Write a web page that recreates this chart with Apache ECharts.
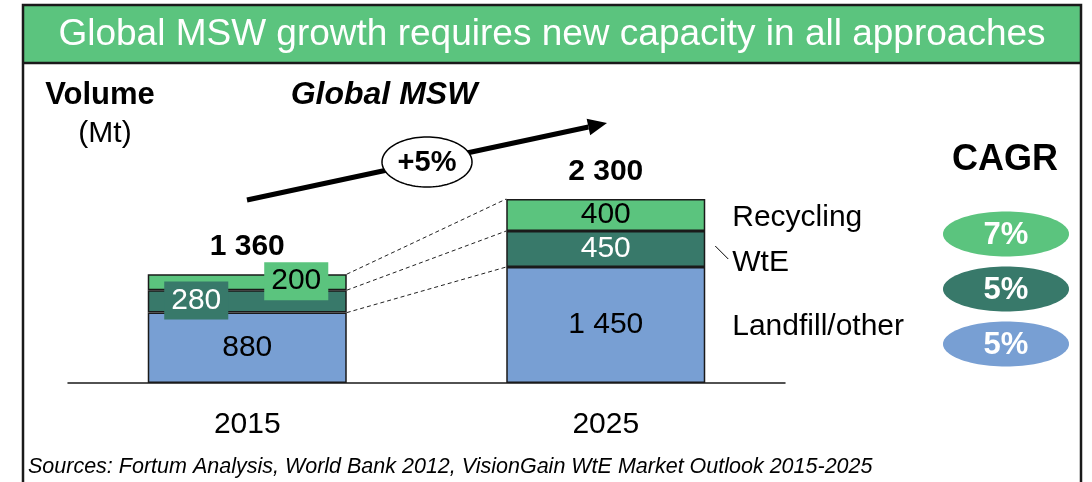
<!DOCTYPE html>
<html><head><meta charset="utf-8">
<script src="https://cdn.jsdelivr.net/npm/echarts@6/dist/echarts.min.js"></script>
<style>html,body{margin:0;padding:0;background:#fff}#c{width:1092px;height:482px}</style>
</head><body><div id="c"></div>
<script>
// ---- data ----
const years = ['2015', '2025'];
const landfill = [880, 1450];
const wte = [280, 450];
const recycling = [200, 400];
const totals = [1360, 2300];
const segmentNames = ['Recycling', 'WtE', 'Landfill/other'];
const cagrLabels = ['7%', '5%', '5%'];
const growthLabel = '+5%';
const titleText = 'Global MSW growth requires new capacity in all approaches';
const sourceText = 'Sources: Fortum Analysis, World Bank 2012, VisionGain WtE Market Outlook 2015-2025';

const FONT = '"Liberation Sans", Arial, Helvetica, sans-serif';
const C_REC = '#5bc47e', C_WTE = '#38796a', C_LAND = '#789fd3';
const BW = 199;

function fmt(v) { return String(v).replace(/\B(?=(\d{3})+(?!\d))/g, ' '); }

const chart = echarts.init(document.getElementById('c'), null, { renderer: 'canvas' });

const barBorder = { borderColor: '#1a1a1a', borderWidth: 1.5 };
const segLabel = (color) => ({ show: true, position: 'inside', fontFamily: FONT, fontSize: 30, color: color, formatter: p => fmt(p.value) });

chart.setOption({
  animation: false,
  backgroundColor: '#fff',
  grid: { left: 68, right: 307, top: 143, bottom: 99, containLabel: false },
  xAxis: {
    type: 'category', data: years,
    axisLine: { lineStyle: { color: '#1a1a1a', width: 1.5 } },
    axisTick: { show: false },
    axisLabel: { fontFamily: FONT, fontSize: 30, color: '#000', margin: 27 }
  },
  yAxis: { type: 'value', min: 0, max: 3000, show: false, splitLine: { show: false } },
  series: [
    { name: 'Landfill/other', type: 'bar', stack: 'msw', barWidth: BW, data: landfill,
      itemStyle: Object.assign({ color: C_LAND }, barBorder), label: segLabel('#000') },
    { name: 'WtE', type: 'bar', stack: 'msw', barWidth: BW,
      data: wte.map((v, i) => i === 0 ? { value: v, label: { show: false } } : v),
      itemStyle: Object.assign({ color: C_WTE }, barBorder), label: segLabel('#fff') },
    { name: 'Recycling', type: 'bar', stack: 'msw', barWidth: BW,
      data: recycling.map((v, i) => i === 0 ? { value: v, label: { show: false } } : v),
      itemStyle: Object.assign({ color: C_REC }, barBorder), label: segLabel('#000') },
    { name: 'totals', type: 'scatter', symbolSize: 0, data: totals, z: 10, itemStyle: { opacity: 1 },
      label: { show: true, position: 'top', distance: 12, fontFamily: FONT, fontSize: 30, fontWeight: 'bold', color: '#000', formatter: p => fmt(p.value) } },
    { name: 'boxed', type: 'scatter', symbolSize: 0, z: 10, itemStyle: { opacity: 1 },
      data: [
        { value: [0, landfill[0] + wte[0] / 2],
          label: { show: true, position: 'inside', offset: [-51, -1], backgroundColor: C_WTE, color: '#fff', padding: [4, 7],
                   fontFamily: FONT, fontSize: 30, formatter: () => fmt(wte[0]) } },
        { value: [0, landfill[0] + wte[0] + recycling[0] / 2],
          label: { show: true, position: 'inside', offset: [49, -1], backgroundColor: C_REC, color: '#000', padding: [4, 7],
                   fontFamily: FONT, fontSize: 30, formatter: () => fmt(recycling[0]) } }
      ] }
  ]
});

// ---- annotations ----
const px = (i, v) => chart.convertToPixel({ xAxisIndex: 0, yAxisIndex: 0 }, [i, v]);
const g = [];
const txt = (text, x, y, font, fill, align) => ({
  type: 'text', z: 50, style: { text, x, y, font, fill: fill || '#000', textAlign: align || 'center', textVerticalAlign: 'middle', align: align || 'center', verticalAlign: 'middle' }
});
function ellipse(cx, cy, rx, ry, fill, stroke, lw) {
  const pts = [];
  for (let k = 0; k < 96; k++) { const a = k / 96 * Math.PI * 2; pts.push([cx + rx * Math.cos(a), cy + ry * Math.sin(a)]); }
  return { type: 'polygon', z: 40, shape: { points: pts }, style: { fill, stroke: stroke || null, lineWidth: lw || 0 } };
}

// frame + title
g.push({ type: 'rect', z: 30, shape: { x: 23, y: 5, width: 1058, height: 58 }, style: { fill: C_REC } });
g.push({ type: 'polyline', z: 31, shape: { points: [[23, 484], [23, 5], [1081, 5], [1081, 484]] }, style: { stroke: '#1a1a1a', lineWidth: 2.5, fill: null } });
g.push({ type: 'line', z: 31, shape: { x1: 23, y1: 63, x2: 1081, y2: 63 }, style: { stroke: '#1a1a1a', lineWidth: 2.5 } });
g.push(txt(titleText, 552, 35, '37px ' + FONT, '#fff'));

// headings
g.push(txt('Volume', 100, 95, 'bold 31px ' + FONT));
g.push(txt('(Mt)', 105, 134, '30px ' + FONT));
g.push(txt('Global MSW', 384, 95, 'italic bold 32px ' + FONT));
g.push(txt('CAGR', 1005, 160, 'bold 36px ' + FONT));
g.push(txt(sourceText, 28, 467, 'italic 21.5px ' + FONT, '#000', 'left'));

// dashed connectors between bars
const levels2015 = [landfill[0], landfill[0] + wte[0], totals[0]];
const levels2025 = [landfill[1], landfill[1] + wte[1], totals[1]];
levels2015.forEach((v, k) => {
  const a = px(0, v), b = px(1, levels2025[k]);
  g.push({ type: 'line', z: 20, shape: { x1: a[0] + BW / 2, y1: a[1], x2: b[0] - BW / 2, y2: b[1] },
           style: { stroke: '#222', lineWidth: 1, lineDash: [4, 3] } });
});

// segment names to the right of the 2025 bar
const mids2025 = [landfill[1] + wte[1] + recycling[1] / 2, landfill[1] + wte[1] / 2, landfill[1] / 2];
const nameDy = [3, 14, 2];
mids2025.forEach((v, k) => {
  const p = px(1, v);
  g.push(txt(segmentNames[k], p[0] + BW / 2 + 27, p[1] + nameDy[k], '30px ' + FONT, '#000', 'left'));
});
{
  const p = px(1, mids2025[1]);
  const x0 = p[0] + BW / 2 + 10;
  g.push({ type: 'line', z: 20, shape: { x1: x0, y1: p[1] - 3, x2: x0 + 13, y2: p[1] + 10 }, style: { stroke: '#000', lineWidth: 1 } });
}

// CAGR ellipses
const cagrColors = [C_REC, C_WTE, C_LAND];
const cagrY = [234, 289, 344];
cagrLabels.forEach((t, k) => {
  g.push(ellipse(1006, cagrY[k], 63, 22.5, cagrColors[k]));
  g.push(txt(t, 1006, cagrY[k] + 1, 'bold 31px ' + FONT, '#fff'));
});

// growth arrow
{
  const x1 = 247, y1 = 200, x2 = 607, y2 = 123;
  const ang = Math.atan2(y2 - y1, x2 - x1), L = 19, W = 8.5;
  const bx = x2 - L * Math.cos(ang), by = y2 - L * Math.sin(ang);
  g.push({ type: 'line', z: 35, shape: { x1, y1, x2: bx, y2: by }, style: { stroke: '#000', lineWidth: 5 } });
  g.push({ type: 'polygon', z: 35, shape: { points: [[x2, y2], [bx + W * Math.sin(ang), by - W * Math.cos(ang)], [bx - W * Math.sin(ang), by + W * Math.cos(ang)]] }, style: { fill: '#000' } });
  g.push(ellipse(427, 162, 45, 25, '#fff', '#000', 1.5));
  g.push(txt(growthLabel, 427, 163, 'bold 29px ' + FONT));
}

chart.setOption({ graphic: g });
</script>
</body></html>
